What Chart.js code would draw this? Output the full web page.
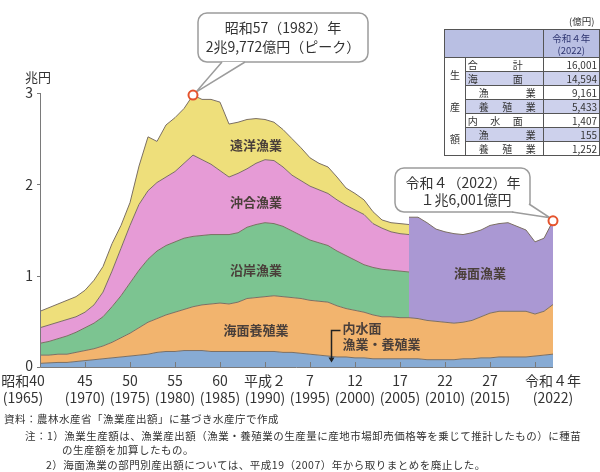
<!DOCTYPE html>
<html lang="ja">
<head>
<meta charset="utf-8">
<script src="https://cdn.jsdelivr.net/npm/chart.js@4.4.1/dist/chart.umd.min.js"></script>
<style>
  body { margin: 0; background: #fff; font-family: "Noto Sans CJK JP", "Noto Sans", sans-serif; color: #333; }
  #wrap { position: relative; width: 600px; height: 472px; overflow: hidden; }
  #chart { position: absolute; left: 0; top: 0; }
  .unit { position: absolute; left: 569px; top: 14px; font-size: 9.5px; }
  #tbl { position: absolute; left: 444px; top: 29px; border-collapse: collapse; font-size: 10px; line-height: 1; color: #333; }
  #tbl td { border: 1px solid #555; padding: 0; height: 13px; }
  #tbl tr.hd td { background: #b9bfe3; height: 27px; }
  #tbl td.side { width: 20px; background: #fff; }
  #tbl td.lbl { width: 77px; }
  #tbl td.num { width: 54px; text-align: right; padding-right: 2px; }
  #tbl tr.sh td.lbl, #tbl tr.sh td.num { background: #cdd1ec; }
  #tbl .era { text-align: center; color: #2e3570; font-size: 9.5px; line-height: 12px; }
  .sidecol { display: flex; flex-direction: column; justify-content: space-around; align-items: center; height: 96px; }
  .jl { display: flex; justify-content: space-between; }
  .note { position: absolute; font-size: 10.5px; letter-spacing: 0.5px; white-space: nowrap; color: #333; }
</style>
</head>
<body>
<div id="wrap">
  <canvas id="chart" width="600" height="472"></canvas>
  <div class="unit">(億円)</div>
  <table id="tbl"></table>
  <div class="note" style="top:411px;left:4px">資料：農林水産省「漁業産出額」に基づき水産庁で作成</div>
  <div class="note" style="top:428px;left:25px">注：1）漁業生産額は、漁業産出額（漁業・養殖業の生産量に産地市場卸売価格等を乗じて推計したもの）に種苗</div>
  <div class="note" style="top:442px;left:62px">の生産額を加算したもの。</div>
  <div class="note" style="top:457px;left:46px">2）海面漁業の部門別産出額については、平成19（2007）年から取りまとめを廃止した。</div>
</div>
<script>
// years 1965-2022 (兆円)
const years = [1965,1966,1967,1968,1969,1970,1971,1972,1973,1974,
               1975,1976,1977,1978,1979,1980,1981,1982,1983,1984,
               1985,1986,1987,1988,1989,1990,1991,1992,1993,1994,
               1995,1996,1997,1998,1999,2000,2001,2002,2003,2004,
               2005,2006,2007,2008,2009,2010,2011,2012,2013,2014,
               2015,2016,2017,2018,2019,2020,2021,2022];

// 内水面漁業・養殖業
const inland = [0.04,0.045,0.05,0.05,0.06,0.07,0.08,0.09,0.10,0.11,
                0.12,0.13,0.14,0.16,0.17,0.17,0.18,0.18,0.18,0.17,
                0.17,0.17,0.17,0.17,0.17,0.17,0.17,0.16,0.16,0.15,
                0.14,0.13,0.12,0.11,0.11,0.10,0.10,0.09,0.09,0.09,
                0.09,0.09,0.09,0.08,0.08,0.08,0.08,0.09,0.09,0.10,
                0.10,0.11,0.11,0.11,0.11,0.12,0.13,0.1407];

// 海面養殖業
const aquaculture = [0.09,0.085,0.09,0.09,0.10,0.11,0.12,0.14,0.17,0.21,
                     0.25,0.30,0.35,0.37,0.40,0.43,0.45,0.48,0.50,0.52,
                     0.53,0.52,0.54,0.58,0.59,0.60,0.61,0.61,0.60,0.60,
                     0.59,0.59,0.59,0.56,0.53,0.52,0.50,0.48,0.46,0.46,
                     0.45,0.45,0.44,0.43,0.42,0.41,0.40,0.40,0.42,0.45,
                     0.49,0.50,0.50,0.50,0.50,0.46,0.48,0.5433];

// sector split, 1965-2006
const sectorYears = years.slice(0, 42);
const coastal = [0.13,0.15,0.17,0.20,0.22,0.25,0.28,0.32,0.39,0.46,
                 0.55,0.63,0.69,0.74,0.76,0.77,0.78,0.77,0.76,0.76,
                 0.75,0.76,0.76,0.78,0.80,0.81,0.79,0.77,0.73,0.69,
                 0.66,0.64,0.62,0.60,0.58,0.55,0.52,0.52,0.52,0.51,
                 0.51,0.50];
const offshore = [0.17,0.18,0.18,0.18,0.17,0.17,0.20,0.27,0.39,0.52,
                  0.63,0.72,0.75,0.75,0.75,0.77,0.82,0.89,0.83,0.77,
                  0.70,0.63,0.65,0.64,0.67,0.69,0.69,0.65,0.61,0.60,
                  0.59,0.58,0.57,0.56,0.55,0.55,0.55,0.48,0.45,0.42,
                  0.41,0.41];
const distant = [0.18,0.19,0.20,0.21,0.22,0.24,0.27,0.28,0.30,0.25,
                 0.25,0.42,0.59,0.45,0.57,0.59,0.60,0.657,0.66,0.71,
                 0.75,0.58,0.56,0.54,0.49,0.44,0.42,0.41,0.40,0.36,
                 0.31,0.29,0.29,0.25,0.19,0.18,0.16,0.13,0.09,0.10,
                 0.11,0.11];

// 海面漁業 (no sector split)
const seaYears = years.slice(41);
const seaFishery = [1.10,1.11,1.07,1.01,0.99,0.98,0.96,0.96,0.95,0.96,
                    0.96,0.97,0.93,0.89,0.79,0.80,0.9161];

const yTicks = [0, 1, 2, 3];
const xTickMarks = [1970,1975,1980,1985,1990,1995,2000,2005,2010,2015,2020];
const tickYears = [1965,1970,1975,1980,1985,1990,1995,2000,2005,2010,2015,2022];
const eraLabels = ['昭和40','45','50','55','60','平成２','7','12','17','22','27','令和４年'];

const tableRows = [
  ['合計', '16,001', 0], ['海面', '14,594', 0], ['漁業', '9,161', 1], ['養殖業', '5,433', 1],
  ['内水面', '1,407', 0], ['漁業', '155', 1], ['養殖業', '1,252', 1]
];

// stacked tops
const base1 = years.map((yr, i) => ({ x: yr, y: inland[i] }));
const base2 = years.map((yr, i) => ({ x: yr, y: inland[i] + aquaculture[i] }));
const top3 = sectorYears.map((yr, i) => ({ x: yr, y: base2[i].y + coastal[i] }));
const top4 = sectorYears.map((yr, i) => ({ x: yr, y: top3[i].y + offshore[i] }));
const top5 = sectorYears.map((yr, i) => ({ x: yr, y: top4[i].y + distant[i] }));
const topSea = seaYears.map((yr, i) => ({ x: yr, y: base2[years.indexOf(yr)].y + seaFishery[i] }));

const edge = '#7b6f63';
const font = '"Noto Sans CJK JP", sans-serif';

function boxPath(ctx, x, y, w, h, r) {
  ctx.beginPath();
  ctx.moveTo(x + r, y);
  ctx.lineTo(x + w - r, y);
  ctx.arcTo(x + w, y, x + w, y + r, r);
  ctx.lineTo(x + w, y + h - r);
  ctx.arcTo(x + w, y + h, x + w - r, y + h, r);
  ctx.lineTo(x + r, y + h);
  ctx.arcTo(x, y + h, x, y + h - r, r);
  ctx.lineTo(x, y + r);
  ctx.arcTo(x, y, x + r, y, r);
  ctx.closePath();
}

function callout(ctx, box, roots, tip, lines) {
  ctx.fillStyle = '#fff';
  ctx.strokeStyle = '#9c9c9c';
  ctx.lineWidth = 1.5;
  boxPath(ctx, box[0], box[1], box[2], box[3], 9);
  ctx.fill();
  ctx.stroke();
  ctx.beginPath();
  ctx.moveTo(roots[0][0], roots[0][1]);
  ctx.lineTo(tip[0], tip[1]);
  ctx.lineTo(roots[1][0], roots[1][1]);
  ctx.closePath();
  ctx.fill();
  ctx.beginPath();
  ctx.moveTo(roots[0][0], roots[0][1]);
  ctx.lineTo(tip[0], tip[1]);
  ctx.lineTo(roots[1][0], roots[1][1]);
  ctx.stroke();
  ctx.fillStyle = '#333';
  ctx.font = '14px ' + font;
  ctx.textAlign = 'center';
  ctx.textBaseline = 'middle';
  lines.forEach(l => ctx.fillText(l[0], l[1], l[2]));
}

const decor = {
  id: 'decor',
  afterDatasetsDraw(chart) {
    const { ctx, chartArea: a } = chart;
    const xs = chart.scales.x, ys = chart.scales.y;
    ctx.save();

    // axes
    ctx.strokeStyle = '#7a7a7a';
    ctx.lineWidth = 1;
    ctx.beginPath();
    ctx.moveTo(a.left + 0.5, a.top);
    ctx.lineTo(a.left + 0.5, a.bottom + 0.5);
    ctx.lineTo(a.right, a.bottom + 0.5);
    yTicks.forEach(v => {
      const py = Math.round(ys.getPixelForValue(v)) + 0.5;
      ctx.moveTo(a.left - 3, py);
      ctx.lineTo(a.left + 0.5, py);
    });
    xTickMarks.forEach(yr => {
      const px = Math.round(xs.getPixelForValue(yr)) + 0.5;
      ctx.moveTo(px, a.bottom);
      ctx.lineTo(px, a.bottom - 5);
    });
    ctx.stroke();

    ctx.fillStyle = '#333';
    ctx.font = '14px ' + font;
    ctx.textAlign = 'right';
    ctx.textBaseline = 'middle';
    yTicks.forEach(v => ctx.fillText(String(v), a.left - 7, ys.getPixelForValue(v) + (v === 0 ? -1 : 0)));
    ctx.font = '13px ' + font;
    ctx.textAlign = 'center';
    ctx.fillText('兆円', 38, 77);

    ctx.font = '14px ' + font;
    tickYears.forEach((yr, i) => {
      const px = xs.getPixelForValue(yr) + (i === 0 ? -17 : 0);
      ctx.fillText(eraLabels[i], px, a.bottom + 14);
      ctx.fillText('(' + yr + ')', px, a.bottom + 31);
    });

    // area names
    ctx.font = 'bold 13px ' + font;
    ctx.fillStyle = '#4a3f3a';
    [['遠洋漁業', 1989, 2.43], ['沖合漁業', 1989, 1.81], ['沿岸漁業', 1989, 1.06],
     ['海面養殖業', 1989, 0.405], ['海面漁業', 2013.9, 1.03]].forEach(t => {
      ctx.fillText(t[0], xs.getPixelForValue(t[1]), ys.getPixelForValue(t[2]));
    });
    ctx.textAlign = 'left';
    ctx.fillText('内水面', xs.getPixelForValue(1998.6), ys.getPixelForValue(0.43));
    ctx.fillText('漁業・養殖業', xs.getPixelForValue(1998.6), ys.getPixelForValue(0.25));
    // bracket to the inland band
    const bx = Math.round(xs.getPixelForValue(1997.3)) + 0.5;
    const by0 = Math.round(ys.getPixelForValue(0.41)) + 0.5;
    const by1 = ys.getPixelForValue(0.07);
    ctx.strokeStyle = '#222';
    ctx.lineWidth = 1.5;
    ctx.beginPath();
    ctx.moveTo(bx + 9, by0);
    ctx.lineTo(bx, by0);
    ctx.lineTo(bx, by1);
    ctx.stroke();
    ctx.fillStyle = '#222';
    ctx.beginPath();
    ctx.moveTo(bx - 3, by1 - 3);
    ctx.lineTo(bx + 3, by1 - 3);
    ctx.lineTo(bx, by1 + 2);
    ctx.closePath();
    ctx.fill();

    // peak and latest markers
    const iPeak = sectorYears.indexOf(1982);
    const peak = [xs.getPixelForValue(1982), ys.getPixelForValue(top5[iPeak].y)];
    const last = topSea[topSea.length - 1];
    const lastPt = [xs.getPixelForValue(last.x), ys.getPixelForValue(last.y)];

    callout(ctx, [198, 13, 170, 49], [[222, 62], [245, 62]], [peak[0] + 3, peak[1] - 3],
      [['昭和57（1982）年', 283, 28], ['2兆9,772億円（ピーク）', 283, 47]]);
    callout(ctx, [395, 168, 135, 44], [[512, 212], [529, 204]], [lastPt[0] - 3, lastPt[1] - 3],
      [['令和４（2022）年', 463, 183], ['１兆6,001億円', 466, 200]]);

    [peak, lastPt].forEach(p => {
      ctx.beginPath();
      ctx.arc(p[0], p[1], 4.5, 0, Math.PI * 2);
      ctx.fillStyle = '#fff';
      ctx.fill();
      ctx.strokeStyle = '#e5532d';
      ctx.lineWidth = 2;
      ctx.stroke();
    });
    ctx.restore();
  }
};

function layer(label, data, color, fill) {
  return { label, data, backgroundColor: color, borderColor: edge, borderWidth: 1, fill, pointRadius: 0, tension: 0 };
}

new Chart(document.getElementById('chart'), {
  type: 'line',
  data: {
    datasets: [
      layer('内水面漁業・養殖業', base1, '#87abd4', 'origin'),
      layer('海面養殖業', base2, '#f2b46e', '-1'),
      layer('沿岸漁業', top3, '#7cc491', '-1'),
      layer('沖合漁業', top4, '#e69bd6', '-1'),
      layer('遠洋漁業', top5, '#eedf7b', '-1'),
      layer('海面漁業', topSea, '#aa98d3', 1)
    ]
  },
  options: {
    responsive: false,
    animation: false,
    layout: { padding: { left: 40, right: 47, top: 93, bottom: 105 } },
    scales: {
      x: { type: 'linear', min: 1965, max: 2022, display: false },
      y: { min: 0, max: 3, display: false }
    },
    plugins: { legend: { display: false }, tooltip: { enabled: false } }
  },
  plugins: [decor]
});

// value table
const tbl = document.getElementById('tbl');
let html = '<tr class="hd"><td colspan="2"></td><td class="era">令和４年<br>(2022)</td></tr>';
tableRows.forEach((r, i) => {
  html += '<tr' + (i % 2 === 1 ? ' class="sh"' : '') + '>';
  if (i === 0) html += '<td rowspan="7" class="side"><div class="sidecol"><span>生</span><span>産</span><span>額</span></div></td>';
  const chars = r[0].split('').map(c => '<span>' + c + '</span>').join('');
  const st = r[2] ? 'margin-left:13px;width:57px' : 'margin-left:2px;width:55px';
  html += '<td class="lbl"><div class="jl" style="' + st + '">' + chars + '</div></td>';
  html += '<td class="num">' + r[1] + '</td></tr>';
});
tbl.innerHTML = html;
</script>
</body>
</html>
